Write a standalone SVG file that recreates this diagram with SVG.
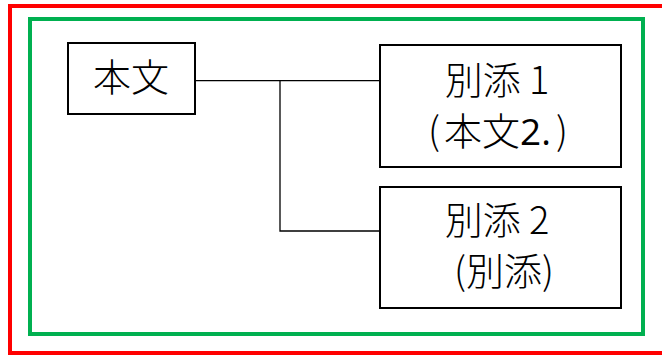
<svg xmlns="http://www.w3.org/2000/svg" width="662" height="356" viewBox="0 0 662 356">
<style>
.frame{fill:none;stroke-width:4}
.box{fill:#fff;stroke:#000;stroke-width:2}
.conn{fill:none;stroke:#000;stroke-width:1.3}
text{font-family:"Noto Sans CJK JP","Noto Sans CJK SC",sans-serif;font-size:38px;font-weight:300;fill:#000;text-anchor:middle}
.num{font-family:"Open Sans","Noto Sans",sans-serif;font-weight:500;font-size:37px}
</style>
<rect width="662" height="356" fill="#fff"/>
<rect class="frame" x="10" y="6" width="660" height="347" stroke="#FF0000"/>
<rect class="frame" x="30" y="19" width="613" height="315" stroke="#00B050"/>
<g id="connectors">
<path class="conn" d="M195 80.7H380M280 80.7V231H380"/>
</g>
<g id="honbun">
<rect class="box" x="68" y="43" width="127" height="71"/>
<text x="131" y="91">本文</text>
</g>
<g id="bessou1">
<rect class="box" x="380" y="45" width="241" height="122"/>
<text x="497" y="94">別添 1</text>
<text x="498" y="145">(<tspan dx="4">本文</tspan><tspan class="num">2.</tspan><tspan dx="5">)</tspan></text>
</g>
<g id="bessou2">
<rect class="box" x="380" y="187" width="241" height="121"/>
<text x="497" y="234">別添 2</text>
<text x="504" y="285">(別添)</text>
</g>
</svg>
